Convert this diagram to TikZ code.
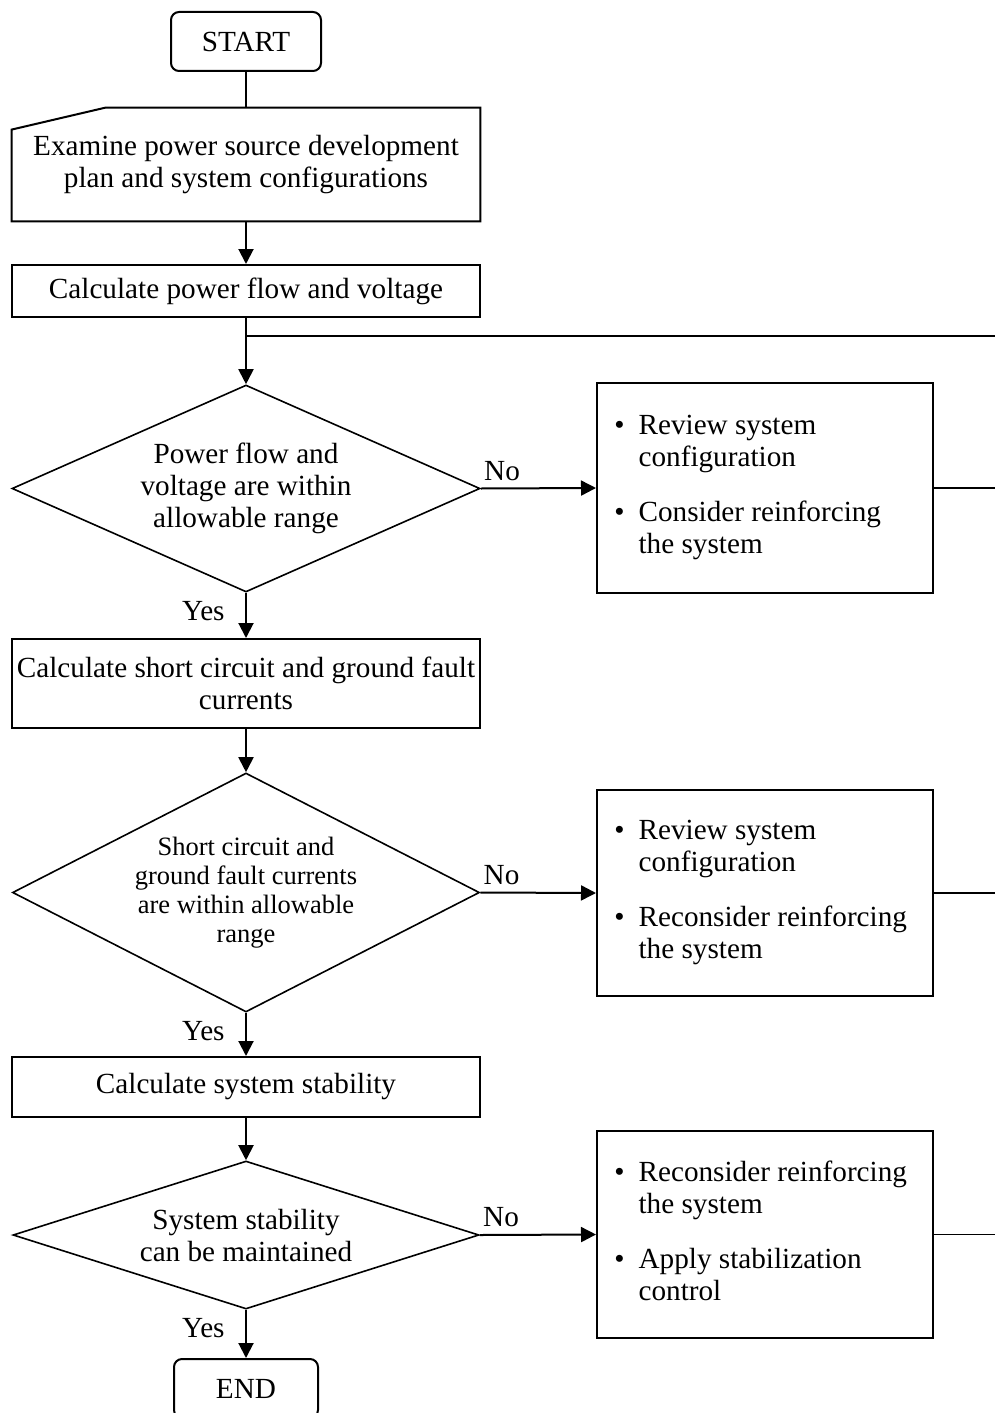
\documentclass[tikz,border=0pt]{standalone}
\usepackage{fontspec}
\setmainfont{Liberation Serif}
\usetikzlibrary{shapes.geometric,arrows.meta,calc}

\begin{document}
\begin{tikzpicture}[x=0.5pt,y=-0.5pt,
  every node/.style={font=\fontsize{14.6}{16}\selectfont},
  proc/.style={draw, line width=1pt, minimum width=234pt, inner sep=0pt, align=center},
  ghost/.style={minimum width=234pt, inner sep=0pt, align=center},
  term/.style={draw, line width=1pt, rounded corners=4pt, minimum height=29.5pt, inner sep=0pt},
  decision/.style={draw, diamond, line width=0.8pt, inner sep=0pt, align=center},
  action/.style={draw, line width=1pt, minimum width=168pt, inner sep=0pt},
  bullets/.style={anchor=west, inner sep=0pt},
  flow/.style={line width=1pt, -{Triangle[length=7.5pt,width=7.5pt]}},
  link/.style={line width=1pt},
  exit/.style={line width=0.8pt},
  lbl/.style={inner sep=0pt}
]
\useasboundingbox (0,0) rectangle (995,1413);

% terminals
\node[term, minimum width=75pt] (start) at (246,41.5) {START};
\node[term, minimum width=72pt] (end) at (246,1388.5) {END};

% input step with slanted top edge
\node[ghost, minimum height=56.5pt] (exam) at (246,164.5)
  {Examine power source development\\plan and system configurations};
\draw[line width=1pt] (exam.south west) -- ($(exam.north west)+(0,22)$)
  -- ($(exam.north west)+(94,0)$) -- (exam.north east) -- (exam.south east) -- cycle;

% processes
\node[proc, minimum height=26pt] (pf) at (246,291) {Calculate power flow and voltage};
\node[proc, minimum height=44.5pt] (sc) at (246,683.5)
  {Calculate short circuit and ground fault\\currents};
\node[proc, minimum height=30pt] (ss) at (246,1087) {Calculate system stability};

% decisions
\node[decision, minimum width=234pt, minimum height=103.5pt, shape aspect=2.26] (d1) at (246,488.5)
  {Power flow and\\voltage are within\\allowable range};
\node[decision, minimum width=233.5pt, minimum height=119.5pt, shape aspect=1.95,
  font=\fontsize{13.25}{14.5}\selectfont] (d2) at (246,892.5)
  {Short circuit and\\ground fault currents\\are within allowable\\range};
\node[decision, minimum width=233pt, minimum height=74pt, shape aspect=3.15] (d3) at (246,1235)
  {System stability\\can be maintained};

% corrective actions
\node[action, minimum height=105pt] (r1) at (765,488) {};
\node[action, minimum height=103pt] (r2) at (765,893) {};
\node[action, minimum height=103.5pt] (r3) at (765,1234.5) {};

\node[bullets] (t1) at ($(r1.west)+(18,0)$) {\begin{tabular}{@{}l@{\hspace{7pt}}l@{}}
  \textbullet & Review system\\ & configuration\\[11.5pt]
  \textbullet & Consider reinforcing\\ & the system\end{tabular}};
\node[bullets] (t2) at ($(r2.west)+(18,0)$) {\begin{tabular}{@{}l@{\hspace{7pt}}l@{}}
  \textbullet & Review system\\ & configuration\\[11.5pt]
  \textbullet & Reconsider reinforcing\\ & the system\end{tabular}};
\node[bullets] (t3) at ($(r3.west)+(18,0)$) {\begin{tabular}{@{}l@{\hspace{7pt}}l@{}}
  \textbullet & Reconsider reinforcing\\ & the system\\[11.5pt]
  \textbullet & Apply stabilization\\ & control\end{tabular}};

% main flow
\draw[link] (start) -- (exam);
\draw[flow] (exam) -- (pf);
\coordinate (join) at (246,336);
\coordinate (feed) at (995,336);
\draw[flow] (pf) -- (d1);
\draw[link] (join) -- (feed);
\draw[flow] (d1) -- (sc);
\draw[flow] (sc) -- (d2);
\draw[flow] (d2) -- (ss);
\draw[flow] (ss) -- (d3);
\draw[flow] (d3) -- (end);

% "No" branches
\draw[flow] (d1.east) -- (r1.west);
\draw[flow] (d2.east) -- (r2.west);
\draw[flow] (d3.east) -- (r3.west);

\coordinate (o1) at (995,488);
\coordinate (o2) at (995,893);
\coordinate (o3) at (995,1234.5);
\draw[link] (r1.east) -- (o1);
\draw[exit] (r2.east) -- (o2);
\draw[exit] (r3.east) -- (o3);

% branch labels
\node[lbl, anchor=south west] (no1) at ($(d1.east)+(3,-7.5)$) {No};
\node[lbl, anchor=south west] (no2) at ($(d2.east)+(3,-7.5)$) {No};
\node[lbl, anchor=south west] (no3) at ($(d3.east)+(3,-7.5)$) {No};
\node[lbl, anchor=north east] (yes1) at ($(d1.south)+(-21,8)$) {Yes};
\node[lbl, anchor=north east] (yes2) at ($(d2.south)+(-21,8)$) {Yes};
\node[lbl, anchor=north east] (yes3) at ($(d3.south)+(-21,8)$) {Yes};
\end{tikzpicture}
\end{document}
